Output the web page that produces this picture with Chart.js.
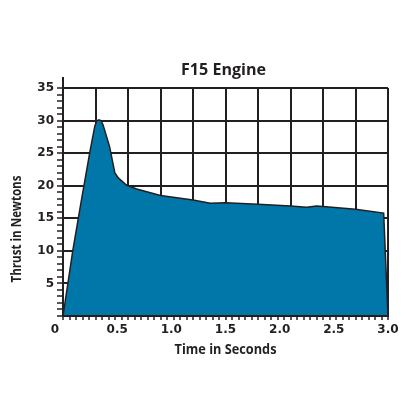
<!DOCTYPE html>
<html>
<head>
<meta charset="utf-8">
<script src="https://cdn.jsdelivr.net/npm/chart.js@4.4.0/dist/chart.umd.min.js"></script>
<style>
html, body { margin: 0; padding: 0; background: #fff; }
#wrap { width: 416px; height: 417px; }
</style>
</head>
<body>
<div id="wrap"><canvas id="thrust-chart"></canvas></div>
<script>
"use strict";
// thrust curve
const timeSec = [0, 0.09, 0.17, 0.246, 0.293, 0.31, 0.33, 0.35, 0.37, 0.43, 0.478, 0.51, 0.585, 0.68, 0.9, 1.2, 1.36, 1.5, 1.8, 2.1, 2.25, 2.34, 2.4, 2.7, 2.96, 3.0];
const thrustN = [0, 10, 17.8, 25, 29.1, 29.9, 30.1, 30, 29.3, 26, 22, 21.2, 20.1, 19.5, 18.5, 17.8, 17.3, 17.4, 17.15, 16.9, 16.7, 16.9, 16.8, 16.4, 15.8, 0];
const xTickLabels = ["0", "0.5", "1.0", "1.5", "2.0", "2.5", "3.0"];
const yTickLabels = ["5", "10", "15", "20", "25", "30", "35"];
const chartTitle = "F15 Engine";
const xTitle = "Time in Seconds";
const yTitle = "Thrust in Newtons";

const INK = "#231f20";
const NONE = "rgba(0,0,0,0)";
const TICK_FONT = "'DejaVu Sans', sans-serif";
const TITLE_FONT = "'Open Sans', sans-serif";
// the "0" under the origin sits a little left of the corner
const ORIGIN_SHIFT = 0.075;

const xLabelVals = xTickLabels.map(Number).map(v => v === 0 ? -ORIGIN_SHIFT : v);
const yLabelVals = yTickLabels.map(Number);
const isStep = (v, step) => Math.abs(v / step - Math.round(v / step)) < 1e-6;

// minor ticks every 0.06 s, grid every 0.3 s, labels every 0.5 s
function xTicks() {
    const vals = [];
    for (let k = 0; k <= 50; k++) vals.push(Math.round(k * 6) / 100);
    for (const v of xLabelVals) if (!vals.some(w => Math.abs(w - v) < 1e-6)) vals.push(v);
    return vals.sort((a, b) => a - b).map(v => ({ value: v }));
}
function yTicks() {
    const vals = [];
    for (let k = 0; k <= 35; k++) vals.push({ value: k });
    return vals;
}

function fitText(ctx, text, x, y, width, rot) {
    ctx.save();
    ctx.translate(x, y);
    if (rot) ctx.rotate(rot);
    ctx.scale(width / ctx.measureText(text).width, 1);
    ctx.fillText(text, 0, 0);
    ctx.restore();
}

const overlay = {
    id: "overlay",
    afterDatasetsDraw(chart) {
        const { ctx, chartArea, scales } = chart;
        const x0 = scales.x.getPixelForValue(0);
        const yTop = scales.y.getPixelForValue(35);
        ctx.save();
        ctx.strokeStyle = INK;
        ctx.lineWidth = 2;
        ctx.beginPath();
        ctx.moveTo(x0, yTop - 11);
        ctx.lineTo(x0, chartArea.bottom + 1);
        ctx.moveTo(x0 - 1, chartArea.bottom);
        ctx.lineTo(chartArea.right + 1, chartArea.bottom);
        ctx.stroke();

        ctx.fillStyle = INK;
        ctx.textAlign = "center";
        ctx.textBaseline = "middle";
        const midX = (chartArea.left + chartArea.right) / 2;
        const midY = (chartArea.top + chartArea.bottom) / 2;
        ctx.font = "bold 16px " + TITLE_FONT;
        fitText(ctx, chartTitle, midX - 2, chartArea.top - 18, 85);
        ctx.font = "bold 14px " + TITLE_FONT;
        fitText(ctx, xTitle, midX, chartArea.bottom + 34, 102);
        fitText(ctx, yTitle, 17, midY + 27, 107, -Math.PI / 2);
        ctx.restore();
    }
};

new Chart("thrust-chart", {
    type: "line",
    data: {
        datasets: [{
            data: timeSec.map((t, i) => ({ x: t, y: thrustN[i] })),
            backgroundColor: "#0077a8",
            borderColor: INK,
            borderWidth: 1.5,
            fill: "origin",
            pointRadius: 0,
            tension: 0,
        }],
    },
    options: {
        responsive: true,
        maintainAspectRatio: false,
        animation: false,
        layout: { padding: { top: 88, right: 28, bottom: 0, left: 0 } },
        plugins: { legend: { display: false }, tooltip: { enabled: false }, title: { display: false } },
        scales: {
            x: {
                type: "linear",
                min: 0,
                max: 3,
                afterBuildTicks: axis => { axis.ticks = xTicks(); },
                afterFit: axis => { axis.height = 101; },
                border: { display: false },
                grid: {
                    color: c => isStep(c.tick.value, 0.3) ? INK : NONE,
                    lineWidth: 2,
                    tickColor: c => (c.tick.value >= 0 && isStep(c.tick.value, 0.06)) ? INK : NONE,
                    tickWidth: 1.5,
                    tickLength: 4,
                },
                ticks: {
                    autoSkip: false,
                    maxRotation: 0,
                    padding: 3,
                    color: INK,
                    font: { family: TICK_FONT, size: 12, weight: "bold" },
                    callback: v => {
                        const i = xLabelVals.findIndex(w => Math.abs(w - v) < 1e-6);
                        return i >= 0 ? xTickLabels[i] : "";
                    },
                },
            },
            y: {
                type: "linear",
                min: 0,
                max: 35,
                afterBuildTicks: axis => { axis.ticks = yTicks(); },
                afterFit: axis => { axis.width = 63; },
                border: { display: false },
                grid: {
                    color: c => (c.tick.value > 0 && isStep(c.tick.value, 5)) ? INK : NONE,
                    lineWidth: 2,
                    tickColor: INK,
                    tickWidth: 1.5,
                    tickLength: 6,
                },
                ticks: {
                    autoSkip: false,
                    padding: 3,
                    color: INK,
                    font: { family: TICK_FONT, size: 12, weight: "bold" },
                    callback: v => {
                        const i = yLabelVals.indexOf(v);
                        return i >= 0 ? yTickLabels[i] : "";
                    },
                },
            },
        },
    },
    plugins: [overlay],
});
</script>
</body>
</html>
